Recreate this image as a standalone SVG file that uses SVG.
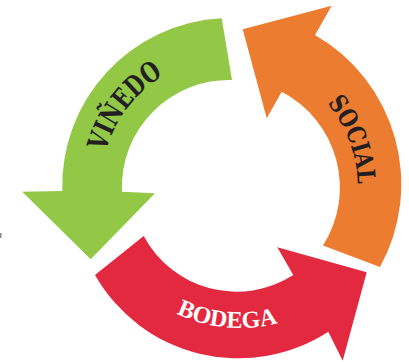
<svg xmlns="http://www.w3.org/2000/svg" width="409" height="362" viewBox="0 0 409 362">
<style>
.lbl{font-family:'DejaVu Serif Condensed','DejaVu Serif','Liberation Serif',serif;font-stretch:condensed;font-weight:bold;}
.wide{font-family:'Liberation Serif','DejaVu Serif',serif;font-weight:bold;}
.dark{fill:#231f20;}
.light{fill:#ffffff;}
</style>
<defs>
<path id="pV" d="M 118.3,250.5 A 129 129 0 0 1 294.5,74.3"/>
<path id="pS" d="M 230,58.5 A 127.5 127.5 0 0 1 293.75,296.4"/>
<path id="pB" d="M 140,289.1 A 148 148 0 0 0 340,289.1"/>
</defs>
<rect width="409" height="362" fill="#ffffff"/>
<rect x="0" y="233" width="1.5" height="5" fill="#8a8a8a"/>
<g id="connectors">
<g id="arrow-vinedo">
<path d="M 221.7,18.3 A 168 168 0 0 0 62.3,191 L 22.3,191.7 L 90.7,259.3 L 155,193.3 L 122,191.7 A 107 107 0 0 1 232,80 Z" fill="#92c846"/>
<text class="lbl dark" font-size="28"><textPath href="#pV" startOffset="151" text-anchor="middle" textLength="98" lengthAdjust="spacingAndGlyphs">VIÑEDO</textPath></text>
</g>
<g id="arrow-social">
<path d="M 380,267 A 172 172 0 0 0 315,35 L 331.7,5.7 L 242.7,29.3 L 266.7,118.3 L 281.7,91.7 A 108 108 0 0 1 323,245.5 Z" fill="#ec7c30"/>
<text class="lbl dark" font-size="25"><textPath href="#pS" startOffset="154" text-anchor="middle" textLength="88" lengthAdjust="spacingAndGlyphs">SOCIAL</textPath></text>
</g>
<g id="arrow-bodega">
<path d="M 95,275 A 165 165 0 0 0 328.3,331.7 L 342.7,360.7 L 366.7,272.3 L 277.3,247.3 L 293.3,275 A 105 105 0 0 1 143.7,236 Z" fill="#e3293f"/>
<text class="wide light" font-size="24"><textPath href="#pB" startOffset="96" text-anchor="middle">BODEGA</textPath></text>
</g>
</g>
</svg>
